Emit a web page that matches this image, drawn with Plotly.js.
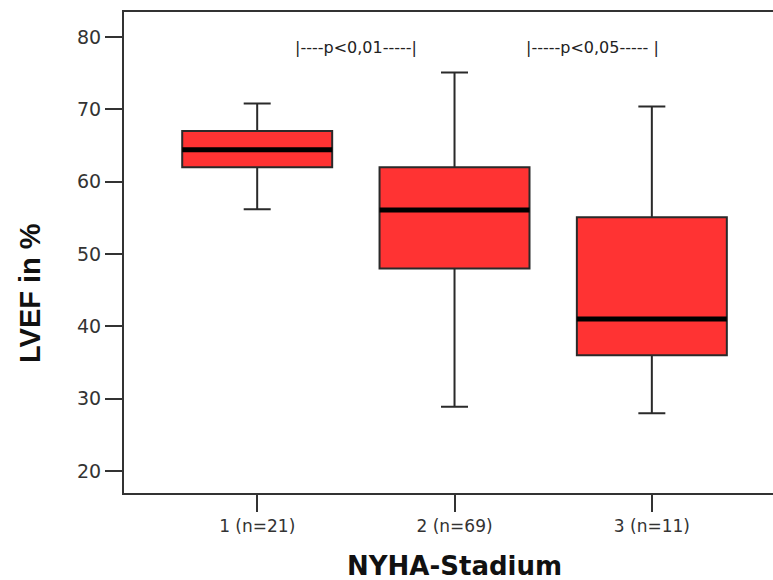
<!DOCTYPE html>
<html>
<head>
<meta charset="utf-8">
<script src="https://cdn.plot.ly/plotly-3.0.1.min.js"></script>
<style>html,body{margin:0;padding:0;background:#fff;}#chart{width:773px;height:580px;}</style>
</head>
<body>
<div id="chart"></div>
<script>
const categories = ["1 (n=21)", "2 (n=69)", "3 (n=11)"];
const lowerWhisker = [56.2, 28.9, 28.0];
const q1Values = [62.0, 48.0, 36.0];
const medianValues = [64.4, 56.1, 41.0];
const q3Values = [67.0, 62.0, 55.1];
const upperWhisker = [70.8, 75.1, 70.4];
const yTicks = [20, 30, 40, 50, 60, 70, 80];
const pLabels = ["|----p<0,01-----|", "|-----p<0,05----- |"];
const xTitle = "NYHA-Stadium";
const yTitle = "LVEF in %";

const baseFont = "DejaVu Sans, Arial, sans-serif";

const boxTrace = {
  type: "box",
  x: categories,
  q1: q1Values,
  median: medianValues,
  q3: q3Values,
  lowerfence: lowerWhisker,
  upperfence: upperWhisker,
  fillcolor: "#ff3333",
  line: {color: "#2a2a2a", width: 2},
  whiskerwidth: 0.18,
  boxpoints: false,
  hoverinfo: "skip",
  showlegend: false
};
const medianTrace = {
  type: "box",
  x: categories,
  q1: medianValues,
  median: medianValues,
  q3: medianValues,
  lowerfence: medianValues,
  upperfence: medianValues,
  fillcolor: "rgba(0,0,0,0)",
  line: {color: "#000000", width: 5},
  whiskerwidth: 0,
  boxpoints: false,
  hoverinfo: "skip",
  showlegend: false
};

const layout = {
  width: 773, height: 580,
  margin: {l: 124, r: 0, t: 12, b: 87},
  paper_bgcolor: "#ffffff",
  plot_bgcolor: "#ffffff",
  boxmode: "overlay",
  boxgap: 0.24,
  boxgroupgap: 0,
  font: {family: baseFont, color: "#333"},
  xaxis: {
    type: "category",
    range: [-0.675, 2.614],
    showline: true, linecolor: "#333", linewidth: 2, mirror: true,
    ticks: "outside", ticklen: 17, tickwidth: 2, tickcolor: "#333",
    tickfont: {size: 17, color: "#333", family: baseFont},
    showgrid: false, zeroline: false
  },
  yaxis: {
    range: [16.96, 83.46],
    tickvals: yTicks,
    showline: true, linecolor: "#333", linewidth: 2,
    ticks: "outside", ticklen: 17, tickwidth: 2, tickcolor: "#333",
    tickfont: {size: 19, color: "#333", family: baseFont},
    showgrid: false, zeroline: false
  },
  annotations: [
    {x: 0.50, y: 78.5, xref: "x", yref: "y", text: pLabels[0], showarrow: false, font: {size: 16, color: "#222", family: baseFont}},
    {x: 1.70, y: 78.5, xref: "x", yref: "y", text: pLabels[1], showarrow: false, font: {size: 16, color: "#222", family: baseFont}},
    {x: 0.51, y: -0.152, xref: "paper", yref: "paper", xanchor: "center", yanchor: "middle", text: xTitle, showarrow: false,
     font: {size: 26, color: "#111", family: baseFont, weight: "bold"}},
    {x: -0.1448, y: 0.4158, xref: "paper", yref: "paper", xanchor: "center", yanchor: "middle", textangle: -90, text: yTitle, showarrow: false,
     font: {size: 29, color: "#111", family: "Liberation Sans, Arial, sans-serif", weight: "bold"}}
  ]
};

Plotly.newPlot("chart", [boxTrace, medianTrace], layout, {displayModeBar: false, staticPlot: true});
</script>
</body>
</html>
